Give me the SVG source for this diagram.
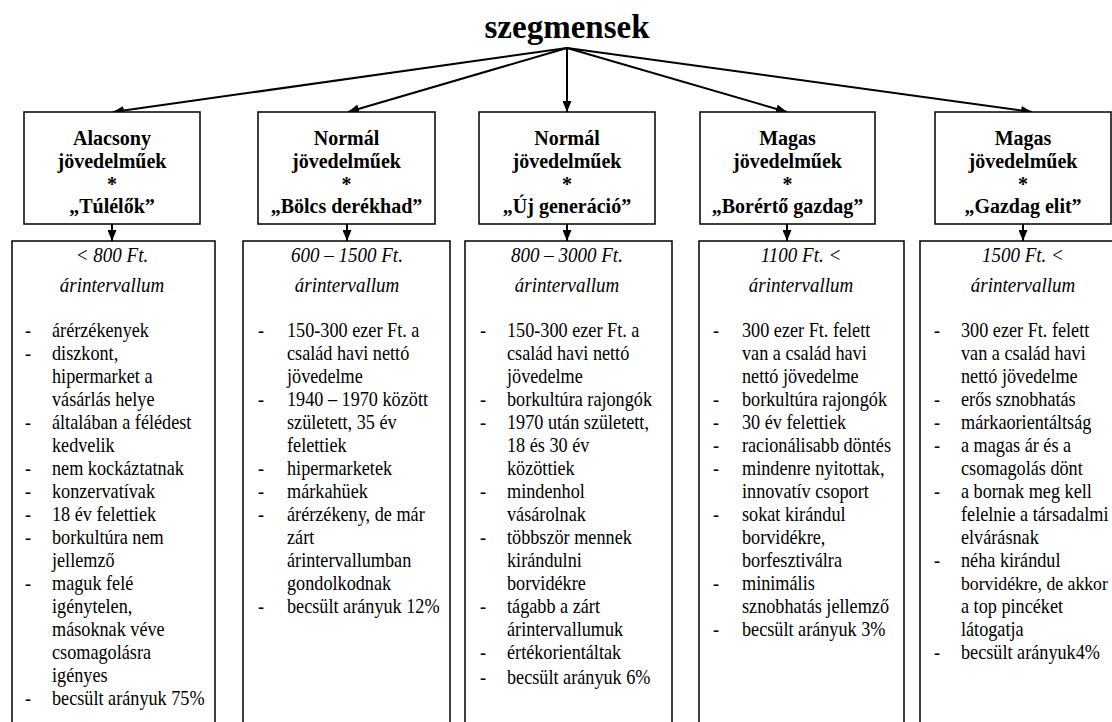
<svg xmlns="http://www.w3.org/2000/svg" width="1112" height="722" viewBox="0 0 1112 722">
<style>
.t{font-family:"Liberation Serif","Times New Roman",serif;fill:#000}
.title{font-size:33px;font-weight:bold;text-anchor:middle}
.hd{font-size:20px;font-weight:bold;text-anchor:middle}
.it{font-size:19px;font-style:italic;text-anchor:middle}
.li{font-size:18.2px}
.box{fill:#fff;stroke:#000;stroke-width:1.5}
.conn{stroke:#000;stroke-width:2;fill:none}
</style>
<defs>
<marker id="ah" markerUnits="userSpaceOnUse" markerWidth="11" markerHeight="9" refX="11" refY="4.5" orient="auto">
<path d="M0,0 L11,4.5 L0,9 z" fill="#000"/>
</marker>
</defs>
<rect width="1112" height="722" fill="#fff"/>
<g id="title"><text class="t title" x="567" y="38">szegmensek</text></g>
<g id="connectors">
<line class="conn" x1="567" y1="48" x2="113" y2="112" marker-end="url(#ah)"/>
<line class="conn" x1="567" y1="48" x2="348" y2="112" marker-end="url(#ah)"/>
<line class="conn" x1="567" y1="48" x2="567" y2="112" marker-end="url(#ah)"/>
<line class="conn" x1="567" y1="48" x2="787" y2="112" marker-end="url(#ah)"/>
<line class="conn" x1="567" y1="48" x2="1032" y2="112" marker-end="url(#ah)"/>
<line class="conn" x1="112" y1="224" x2="112" y2="241" marker-end="url(#ah)"/>
<line class="conn" x1="347" y1="224" x2="347" y2="241" marker-end="url(#ah)"/>
<line class="conn" x1="567" y1="224" x2="567" y2="241" marker-end="url(#ah)"/>
<line class="conn" x1="787" y1="224" x2="787" y2="241" marker-end="url(#ah)"/>
<line class="conn" x1="1023" y1="224" x2="1023" y2="241" marker-end="url(#ah)"/>
</g>
<g id="h1"><rect class="box" x="24" y="112" width="176" height="112"/>
<text class="t hd"><tspan x="112" y="144.5">Alacsony</tspan><tspan x="112" y="167.5">jövedelműek</tspan><tspan x="112" y="190.5">*</tspan><tspan x="112" y="213">„Túlélők”</tspan></text></g>
<g id="h2"><rect class="box" x="258" y="112" width="177" height="112"/>
<text class="t hd"><tspan x="346.5" y="144.5">Normál</tspan><tspan x="346.5" y="167.5">jövedelműek</tspan><tspan x="346.5" y="190.5">*</tspan><tspan x="346.5" y="213">„Bölcs derékhad”</tspan></text></g>
<g id="h3"><rect class="box" x="479" y="112" width="176" height="112"/>
<text class="t hd"><tspan x="567" y="144.5">Normál</tspan><tspan x="567" y="167.5">jövedelműek</tspan><tspan x="567" y="190.5">*</tspan><tspan x="567" y="213">„Új generáció”</tspan></text></g>
<g id="h4"><rect class="box" x="700" y="112" width="175" height="112"/>
<text class="t hd"><tspan x="787.5" y="144.5">Magas</tspan><tspan x="787.5" y="167.5">jövedelműek</tspan><tspan x="787.5" y="190.5">*</tspan><tspan x="787.5" y="213">„Borértő gazdag”</tspan></text></g>
<g id="h5"><rect class="box" x="935" y="112" width="176" height="112"/>
<text class="t hd"><tspan x="1023" y="144.5">Magas</tspan><tspan x="1023" y="167.5">jövedelműek</tspan><tspan x="1023" y="190.5">*</tspan><tspan x="1023" y="213">„Gazdag elit”</tspan></text></g>

<g id="c1"><rect class="box" x="12" y="241" width="203" height="500"/>
<text class="t it" transform="translate(0,262) scale(1,1.12)"><tspan x="112" y="0">&lt; 800 Ft.</tspan><tspan x="112" y="26.79">árintervallum</tspan></text>
<text class="t li" transform="translate(0,336.5) scale(1,1.1)">
<tspan x="25" y="0">-</tspan><tspan x="52" y="0">árérzékenyek</tspan>
<tspan x="25" y="20.95">-</tspan><tspan x="52" y="20.95">diszkont,</tspan>
<tspan x="52" y="41.91">hipermarket a</tspan>
<tspan x="52" y="62.86">vásárlás helye</tspan>
<tspan x="25" y="83.82">-</tspan><tspan x="52" y="83.82">általában a félédest</tspan>
<tspan x="52" y="104.77">kedvelik</tspan>
<tspan x="25" y="125.73">-</tspan><tspan x="52" y="125.73">nem kockáztatnak</tspan>
<tspan x="25" y="146.68">-</tspan><tspan x="52" y="146.68">konzervatívak</tspan>
<tspan x="25" y="167.64">-</tspan><tspan x="52" y="167.64">18 év felettiek</tspan>
<tspan x="25" y="188.59">-</tspan><tspan x="52" y="188.59">borkultúra nem</tspan>
<tspan x="52" y="209.55">jellemző</tspan>
<tspan x="25" y="230.5">-</tspan><tspan x="52" y="230.5">maguk felé</tspan>
<tspan x="52" y="251.46">igénytelen,</tspan>
<tspan x="52" y="272.41">másoknak véve</tspan>
<tspan x="52" y="293.37">csomagolásra</tspan>
<tspan x="52" y="314.32">igényes</tspan>
<tspan x="25" y="335.28">-</tspan><tspan x="52" y="335.28">becsült arányuk 75%</tspan>
</text></g>

<g id="c2"><rect class="box" x="243" y="241" width="207" height="500"/>
<text class="t it" transform="translate(0,262) scale(1,1.12)"><tspan x="347" y="0">600 – 1500 Ft.</tspan><tspan x="347" y="26.79">árintervallum</tspan></text>
<text class="t li" transform="translate(0,336.5) scale(1,1.1)">
<tspan x="258" y="0">-</tspan><tspan x="287" y="0">150-300 ezer Ft. a</tspan>
<tspan x="287" y="20.95">család havi nettó</tspan>
<tspan x="287" y="41.91">jövedelme</tspan>
<tspan x="258" y="62.86">-</tspan><tspan x="287" y="62.86">1940 – 1970 között</tspan>
<tspan x="287" y="83.82">született, 35 év</tspan>
<tspan x="287" y="104.77">felettiek</tspan>
<tspan x="258" y="125.73">-</tspan><tspan x="287" y="125.73">hipermarketek</tspan>
<tspan x="258" y="146.68">-</tspan><tspan x="287" y="146.68">márkahüek</tspan>
<tspan x="258" y="167.64">-</tspan><tspan x="287" y="167.64">árérzékeny, de már</tspan>
<tspan x="287" y="188.59">zárt</tspan>
<tspan x="287" y="209.55">árintervallumban</tspan>
<tspan x="287" y="230.5">gondolkodnak</tspan>
<tspan x="258" y="251.46">-</tspan><tspan x="287" y="251.46">becsült arányuk 12%</tspan>
</text></g>

<g id="c3"><rect class="box" x="465" y="241" width="207" height="500"/>
<text class="t it" transform="translate(0,262) scale(1,1.12)"><tspan x="567" y="0">800 – 3000 Ft.</tspan><tspan x="567" y="26.79">árintervallum</tspan></text>
<text class="t li" transform="translate(0,336.5) scale(1,1.1)">
<tspan x="480" y="0">-</tspan><tspan x="507" y="0">150-300 ezer Ft. a</tspan>
<tspan x="507" y="20.95">család havi nettó</tspan>
<tspan x="507" y="41.91">jövedelme</tspan>
<tspan x="480" y="62.86">-</tspan><tspan x="507" y="62.86">borkultúra rajongók</tspan>
<tspan x="480" y="83.82">-</tspan><tspan x="507" y="83.82">1970 után született,</tspan>
<tspan x="507" y="104.77">18 és 30 év</tspan>
<tspan x="507" y="125.73">közöttiek</tspan>
<tspan x="480" y="146.68">-</tspan><tspan x="507" y="146.68">mindenhol</tspan>
<tspan x="507" y="167.64">vásárolnak</tspan>
<tspan x="480" y="188.59">-</tspan><tspan x="507" y="188.59">többször mennek</tspan>
<tspan x="507" y="209.55">kirándulni</tspan>
<tspan x="507" y="230.5">borvidékre</tspan>
<tspan x="480" y="251.46">-</tspan><tspan x="507" y="251.46">tágabb a zárt</tspan>
<tspan x="507" y="272.41">árintervallumuk</tspan>
<tspan x="480" y="293.37">-</tspan><tspan x="507" y="293.37">értékorientáltak</tspan>
<tspan x="480" y="315.9">-</tspan><tspan x="507" y="315.9">becsült arányuk 6%</tspan>
</text></g>

<g id="c4"><rect class="box" x="699" y="241" width="205" height="500"/>
<text class="t it" transform="translate(0,262) scale(1,1.12)"><tspan x="801" y="0">1100 Ft. &lt;</tspan><tspan x="801" y="26.79">árintervallum</tspan></text>
<text class="t li" transform="translate(0,336.5) scale(1,1.1)">
<tspan x="713" y="0">-</tspan><tspan x="742" y="0">300 ezer Ft. felett</tspan>
<tspan x="742" y="20.95">van a család havi</tspan>
<tspan x="742" y="41.91">nettó jövedelme</tspan>
<tspan x="713" y="62.86">-</tspan><tspan x="742" y="62.86">borkultúra rajongók</tspan>
<tspan x="713" y="83.82">-</tspan><tspan x="742" y="83.82">30 év felettiek</tspan>
<tspan x="713" y="104.77">-</tspan><tspan x="742" y="104.77">racionálisabb döntés</tspan>
<tspan x="713" y="125.73">-</tspan><tspan x="742" y="125.73">mindenre nyitottak,</tspan>
<tspan x="742" y="146.68">innovatív csoport</tspan>
<tspan x="713" y="167.64">-</tspan><tspan x="742" y="167.64">sokat kirándul</tspan>
<tspan x="742" y="188.59">borvidékre,</tspan>
<tspan x="742" y="209.55">borfesztiválra</tspan>
<tspan x="713" y="230.5">-</tspan><tspan x="742" y="230.5">minimális</tspan>
<tspan x="742" y="251.46">sznobhatás jellemző</tspan>
<tspan x="713" y="272.41">-</tspan><tspan x="742" y="272.41">becsült arányuk 3%</tspan>
</text></g>

<g id="c5"><rect class="box" x="920" y="241" width="220" height="500"/>
<text class="t it" transform="translate(0,262) scale(1,1.12)"><tspan x="1023" y="0">1500 Ft. &lt;</tspan><tspan x="1023" y="26.79">árintervallum</tspan></text>
<text class="t li" transform="translate(0,336.5) scale(1,1.1)">
<tspan x="934" y="0">-</tspan><tspan x="961" y="0">300 ezer Ft. felett</tspan>
<tspan x="961" y="20.95">van a család havi</tspan>
<tspan x="961" y="41.91">nettó jövedelme</tspan>
<tspan x="934" y="62.86">-</tspan><tspan x="961" y="62.86">erős sznobhatás</tspan>
<tspan x="934" y="83.82">-</tspan><tspan x="961" y="83.82">márkaorientáltság</tspan>
<tspan x="934" y="104.77">-</tspan><tspan x="961" y="104.77">a magas ár és a</tspan>
<tspan x="961" y="125.73">csomagolás dönt</tspan>
<tspan x="934" y="146.68">-</tspan><tspan x="961" y="146.68">a bornak meg kell</tspan>
<tspan x="961" y="167.64">felelnie a társadalmi</tspan>
<tspan x="961" y="188.59">elvárásnak</tspan>
<tspan x="934" y="209.55">-</tspan><tspan x="961" y="209.55">néha kirándul</tspan>
<tspan x="961" y="230.5" style="font-size:17.7px">borvidékre, de akkor</tspan>
<tspan x="961" y="251.46">a top pincéket</tspan>
<tspan x="961" y="272.41">látogatja</tspan>
<tspan x="934" y="293.37">-</tspan><tspan x="961" y="293.37">becsült arányuk4%</tspan>
</text></g>
</svg>
